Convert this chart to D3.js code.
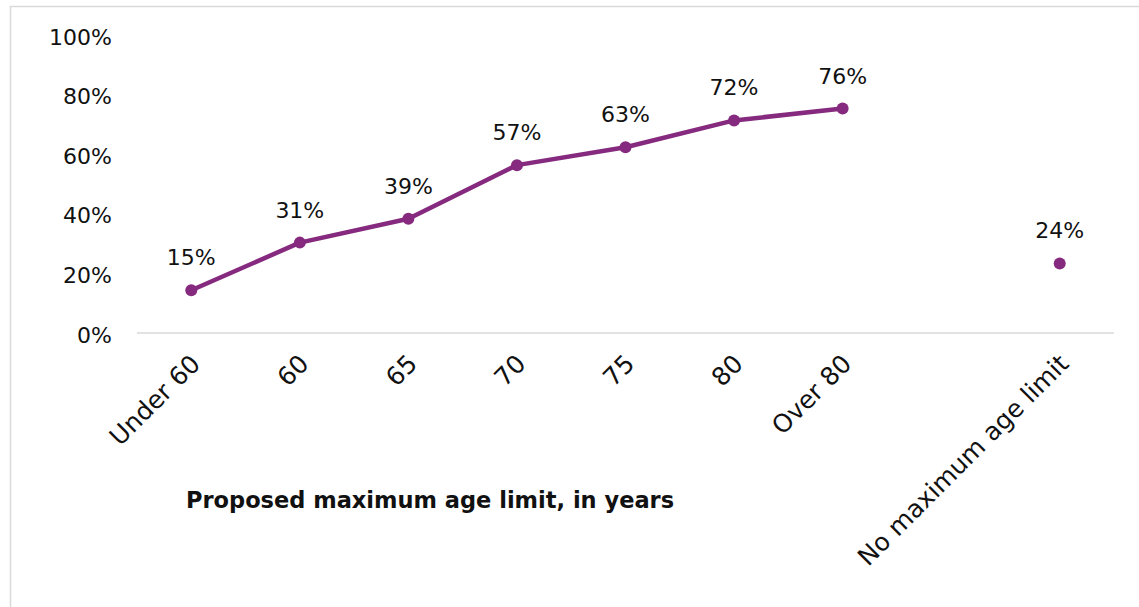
<!DOCTYPE html>
<html>
<head>
<meta charset="utf-8">
<script src="https://cdn.jsdelivr.net/npm/d3@7"></script>
<style>
  html, body { margin: 0; padding: 0; background: #fff; }
  svg { display: block; }
  text { font-family: "Century Gothic", "DejaVu Sans", sans-serif; fill: #111; }
</style>
</head>
<body>
<svg id="chart" width="1139" height="607"></svg>
<script>
// Age-limit categories; the empty slot keeps a gap before the last category
const categories = ["Under 60", "60", "65", "70", "75", "80", "Over 80", "", "No maximum age limit"];
const lineCategories = ["Under 60", "60", "65", "70", "75", "80", "Over 80"];
const lineValues = [15, 31, 39, 57, 63, 72, 76];
const standaloneCategory = "No maximum age limit";
const standaloneValue = 24;
const yTicks = [0, 20, 40, 60, 80, 100];
const xTitle = "Proposed maximum age limit, in years";

const svg = d3.select("#chart");
const purple = "#852a7e";

// Outer frame (top and left edges visible)
svg.append("rect")
  .attr("x", 10.5).attr("y", 6.5)
  .attr("width", 1200).attr("height", 700)
  .attr("fill", "none").attr("stroke", "#d9d9d9").attr("stroke-width", 1.5);

const x = d3.scaleBand().domain(categories).range([137, 1114]).padding(0);
const y = d3.scaleLinear().domain([0, 100]).range([335, 37]);
const cx = c => x(c) + x.bandwidth() / 2;

// Y axis labels
const yAxis = d3.axisLeft(y).tickValues(yTicks).tickFormat(d => d + "%").tickSize(0).tickPadding(0);
const yg = svg.append("g").attr("transform", "translate(112,0)").call(yAxis);
yg.select(".domain").remove();
yg.selectAll("text").attr("font-size", 22).style("font-family", null).attr("fill", "#111");

// Baseline
svg.append("line")
  .attr("x1", 137).attr("x2", 1114)
  .attr("y1", y(0) - 2).attr("y2", y(0) - 2)
  .attr("stroke", "#d9d9d9").attr("stroke-width", 1.5);

// Rotated category labels
const xAxis = d3.axisBottom(x).tickValues(categories.filter(c => c !== "")).tickSize(0).tickPadding(0);
const xg = svg.append("g").attr("transform", `translate(0,${y(0) + 18})`).call(xAxis);
xg.select(".domain").remove();
xg.selectAll("text")
  .attr("font-size", 25).style("font-family", null).attr("fill", "#111")
  .attr("text-anchor", "end")
  .attr("dy", "0.7em")
  .attr("transform", "translate(-2,0) rotate(-45)");

// Line series
const pts = lineCategories.map((c, i) => ({ c, v: lineValues[i] }));
svg.append("path")
  .datum(pts)
  .attr("d", d3.line().x(d => cx(d.c)).y(d => y(d.v)))
  .attr("fill", "none").attr("stroke", purple).attr("stroke-width", 4.5)
  .attr("stroke-linejoin", "round");

const allPts = pts.concat([{ c: standaloneCategory, v: standaloneValue }]);
svg.selectAll("circle.pt").data(allPts).enter().append("circle")
  .attr("class", "pt")
  .attr("cx", d => cx(d.c)).attr("cy", d => y(d.v)).attr("r", 6)
  .attr("fill", purple);

// Value labels
svg.selectAll("text.val").data(allPts).enter().append("text")
  .attr("class", "val")
  .attr("x", d => cx(d.c)).attr("y", d => y(d.v) - 25)
  .attr("text-anchor", "middle").attr("font-size", 22)
  .text(d => d.v + "%");

// Axis title
svg.append("text")
  .attr("x", 186).attr("y", 508)
  .attr("font-size", 22.5).attr("font-weight", "bold")
  .text(xTitle);
</script>
</body>
</html>
